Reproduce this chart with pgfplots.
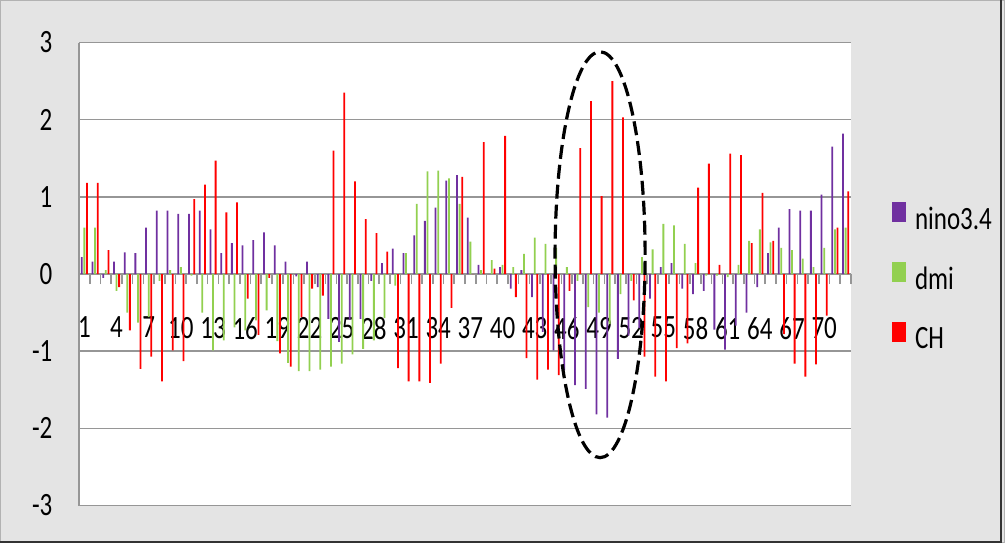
\documentclass[border=0pt]{standalone}
\usepackage{fontspec}
\setmainfont{Carlito}
\usepackage{graphicx}
\usepackage{pgfplots}
\pgfplotsset{compat=1.18}
\usepackage{pgfplotstable}

\definecolor{nino}{RGB}{112,48,160}
\definecolor{dmi}{RGB}{146,208,80}
\definecolor{ch}{RGB}{255,0,0}
\definecolor{bg}{RGB}{228,228,228}
\definecolor{gridc}{RGB}{150,150,150}

\pgfplotstableread{
x nino dmi ch
1 0.22 0.60 1.18
2 0.16 0.60 1.18
3 -0.05 0.05 0.31
4 0.16 -0.22 -0.17
5 0.28 -0.50 -0.73
6 0.27 -0.63 -1.23
7 0.60 -0.56 -1.07
8 0.82 -0.09 -1.39
9 0.82 0.05 -0.99
10 0.78 0.09 -1.13
11 0.78 -0.02 0.97
12 0.82 -0.50 1.16
13 0.58 -0.99 1.47
14 0.27 -0.86 0.80
15 0.40 -0.69 0.93
16 0.37 -0.73 -0.32
17 0.44 -0.60 -0.79
18 0.54 -0.47 -0.05
19 0.37 -0.87 -1.03
20 0.16 -1.15 -1.20
21 -0.03 -1.26 -0.56
22 0.16 -1.26 -0.19
23 -0.17 -1.24 -0.28
24 -0.58 -1.20 1.60
25 -0.88 -1.16 2.35
26 -0.59 -1.04 1.20
27 -0.58 -0.97 0.71
28 -0.09 -0.86 0.53
29 0.14 -0.57 0.29
30 0.33 -0.15 -1.22
31 0.27 0.27 -1.39
32 0.50 0.91 -1.39
33 0.69 1.33 -1.41
34 0.86 1.34 -1.16
35 1.21 1.24 -0.44
36 1.28 0.91 1.26
37 0.73 0.42 0.00
38 0.12 0.05 1.71
39 0.00 0.18 0.07
40 0.09 0.12 1.79
41 -0.19 0.09 -0.30
42 0.05 0.26 -1.09
43 -0.30 0.47 -1.37
44 -0.75 0.39 -1.24
45 -0.99 0.34 -1.31
46 -1.25 0.09 -0.22
47 -1.44 -0.09 1.63
48 -1.49 -0.43 2.24
49 -1.82 -0.50 1.01
50 -1.86 -0.65 2.50
51 -1.10 -0.26 2.03
52 -0.80 -0.09 -0.34
53 -0.70 0.22 -1.07
54 -0.32 0.32 -1.33
55 0.09 0.65 -1.39
56 0.14 0.63 -0.96
57 -0.19 0.39 -0.90
58 -0.26 0.14 1.12
59 -0.22 -0.02 1.43
60 -0.72 -0.02 0.12
61 -0.98 -0.04 1.56
62 -0.67 0.12 1.54
63 -0.50 0.43 0.40
64 -0.17 0.58 1.05
65 0.27 0.41 0.43
66 0.60 0.34 -0.78
67 0.84 0.31 -1.16
68 0.82 0.20 -1.33
69 0.82 0.09 -1.17
70 1.03 0.34 -0.54
71 1.65 0.58 0.60
72 1.82 0.60 1.07
}\data

\newcommand{\vs}[1]{\scalebox{1}[1.3]{#1}}

\begin{document}
\begin{tikzpicture}
\path[use as bounding box, fill=bg] (-39.5pt,-18.75pt) rectangle (463pt,252.75pt);
\draw[gray!60, line width=0.6pt] (-39.2pt,-18.45pt) rectangle (462.7pt,252.45pt);
\draw[gray!40!black, line width=0.8pt] (-39.5pt,-18.35pt) -- (461pt,-18.35pt) -- (461pt,252.75pt);
\begin{axis}[
  at={(0pt,0pt)}, anchor=south west, scale only axis,
  width=386pt, height=231.5pt,
  xmin=0.5, xmax=72.5, ymin=-3, ymax=3,
  ybar=0.4pt, bar width=0.9pt,
  axis background/.style={fill=white},
  axis y line*=left, axis x line*=middle,
  hide obscured x ticks=false, hide obscured y ticks=false,
  axis line style={gridc, line width=0.8pt, -},
  every inner x axis line/.append style={-},
  every outer y axis line/.append style={-},
  ymajorgrids, grid style={gridc, line width=0.8pt},
  ytick={-3,-2,...,3},
  xtick={1,4,...,70},
  minor xtick={0.5,1.5,...,72.5},
  major tick length=0pt, minor tick length=5pt,
  xtick align=outside,
  tick style={gridc, line width=0.8pt},
  every tick label/.append style={font=\fontsize{12.5}{15}\selectfont},
  xticklabel={\vs{\pgfmathparse{int(\tick)}\pgfmathresult}},
  yticklabel={\vs{\pgfmathparse{int(\tick)}\pgfmathresult}},
  xticklabel style={anchor=north, yshift=-18pt},
  yticklabel style={anchor=east, xshift=-9.8pt},
  legend style={at={(1.0527,0.656)}, anchor=north west, draw=none, fill=none,
    inner sep=0pt, row sep=12.5pt, column sep=2.5pt,
    font=\fontsize{12.5}{15}\selectfont, cells={anchor=west}},
  legend image code/.code={\path[#1, fill, draw=none] (0pt,-1pt) rectangle (7pt,9pt);},
]
\addplot[fill=nino, draw=none] table[x=x, y=nino]{\data};
\addlegendentry{\vs{nino3.4}}
\addplot[fill=dmi, draw=none] table[x=x, y=dmi]{\data};
\addlegendentry{\vs{dmi}}
\addplot[fill=ch, draw=none] table[x=x, y=ch]{\data};
\addlegendentry{\vs{CH}}
\draw[black, line width=1.6pt, dash pattern=on 7pt off 3pt] (axis cs:49.1,0.25) ellipse [x radius=4.2, y radius=2.63];
\end{axis}
\end{tikzpicture}
\end{document}
